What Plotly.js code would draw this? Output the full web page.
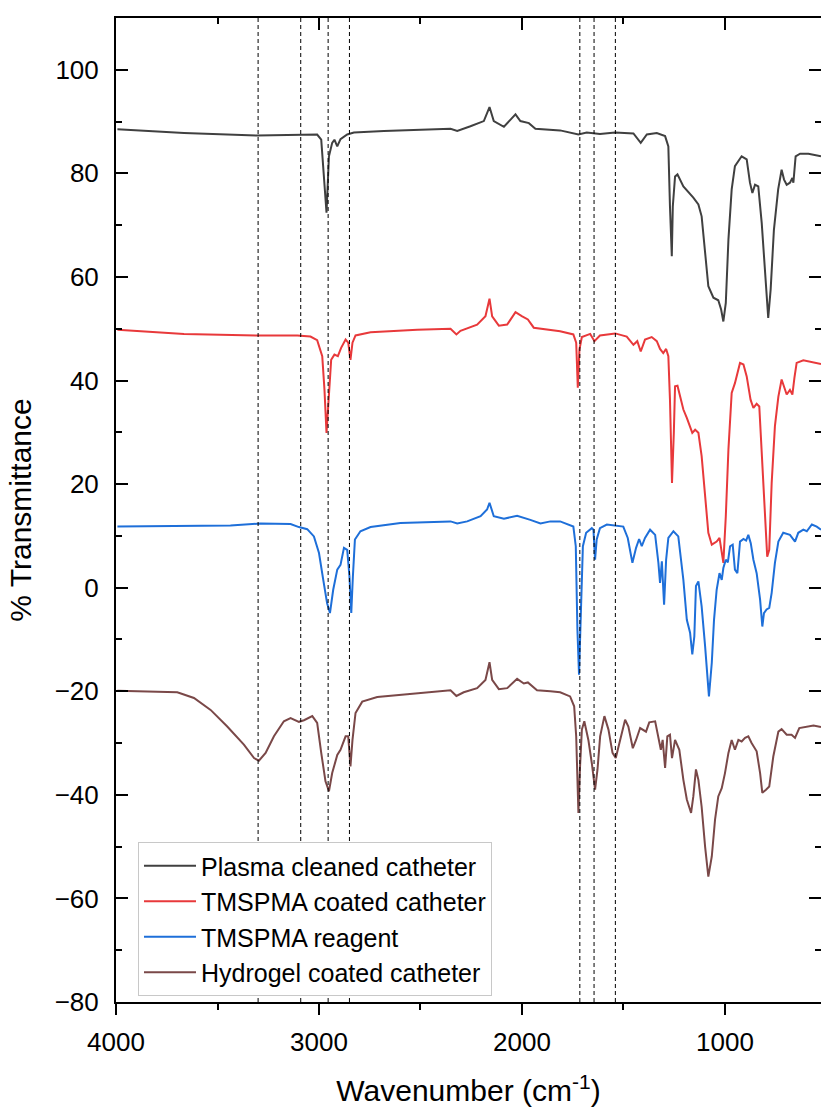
<!DOCTYPE html>
<html>
<head>
<meta charset="utf-8">
<script src="https://cdn.plot.ly/plotly-3.0.1.min.js"></script>
<style>html,body{margin:0;padding:0;background:#fff;}#chart{width:821px;height:1109px;}</style>
</head>
<body>
<div id="chart"></div>
<script>
// ---- Data (wavenumber in cm-1, % transmittance) ----
const seriesNames = ["Plasma cleaned catheter", "TMSPMA coated catheter", "TMSPMA reagent", "Hydrogel coated catheter"];
const seriesColors = ["#404040", "#e8393b", "#1e6fd9", "#7a4848"];

const plasmaWn = [3993,3665,3304,3009,2989,2976,2963,2951,2935,2924,2910,2894,2861,2828,2680,2352,2319,2254,2188,2160,2139,2089,2032,2008,1966,1934,1812,1722,1681,1616,1541,1451,1415,1385,1336,1295,1279,1271,1262,1257,1246,1234,1205,1156,1131,1115,1098,1082,1057,1033,1019,1008,996,983,967,951,918,893,877,865,852,836,819,803,787,775,759,738,721,709,696,680,668,663,652,630,589,527];
const plasmaT  = [88.5,87.8,87.3,87.5,86.5,80.1,72.4,83.3,85.9,86.5,85.2,86.6,87.5,87.9,88.2,88.6,88.2,89.1,90.1,92.8,90.1,89.0,91.4,90.1,89.7,88.6,88.3,87.5,87.9,87.6,87.9,87.7,85.9,87.5,87.8,87.2,85.2,73.6,64.0,73.6,79.4,79.8,77.5,75.3,74.0,71.7,65.3,58.2,56.0,55.5,53.7,51.4,55.0,67.2,76.9,81.4,83.3,82.7,78.2,76.2,77.8,77.5,70.4,60.2,52.1,57.6,69.1,76.9,80.7,78.8,77.8,78.2,79.1,78.2,83.3,83.8,83.8,83.3];

const coatedWn = [3993,3665,3304,3107,3042,3009,2984,2973,2963,2951,2940,2924,2907,2891,2869,2856,2845,2835,2820,2746,2516,2352,2323,2303,2221,2180,2160,2147,2114,2073,2032,1999,1971,1942,1812,1747,1733,1725,1717,1705,1664,1643,1616,1541,1484,1451,1432,1415,1394,1361,1336,1320,1304,1290,1279,1271,1261,1252,1246,1234,1205,1188,1161,1147,1131,1115,1098,1082,1065,1041,1027,1016,1008,996,983,967,951,926,909,893,874,860,844,831,819,803,792,782,770,754,737,721,709,696,680,668,658,647,614,527];
const coatedT  = [49.8,49.0,48.7,48.7,48.5,47.8,44.7,38.2,29.9,38.2,44.0,45.0,44.7,46.3,47.9,47.3,44.0,47.3,48.7,49.3,49.8,50.0,48.9,49.6,50.8,52.4,55.8,52.4,50.6,50.8,53.2,52.4,51.8,50.2,49.5,48.9,47.3,38.6,46.0,48.4,49.0,47.6,48.7,49.1,48.5,46.9,47.6,45.6,47.9,48.4,47.6,46.1,45.3,46.1,44.7,36.3,20.2,29.9,38.9,39.0,34.4,32.8,29.9,30.5,29.9,25.4,17.0,10.6,8.3,8.9,9.6,6.7,4.8,13.8,26.7,37.6,39.5,43.4,43.1,40.8,36.3,34.7,35.5,35.0,26.7,13.8,6.0,7.3,20.2,31.2,36.9,40.2,38.9,37.3,38.2,37.3,40.5,43.4,43.9,43.2];

const reagentWn = [3993,3436,3288,3140,3099,3058,3025,3000,2979,2960,2946,2930,2910,2894,2877,2861,2850,2841,2833,2823,2796,2746,2599,2352,2319,2270,2204,2172,2160,2139,2089,2024,1959,1909,1860,1812,1747,1735,1727,1719,1710,1700,1684,1656,1648,1640,1632,1616,1582,1501,1479,1456,1438,1423,1410,1394,1369,1344,1328,1320,1311,1300,1290,1279,1254,1230,1205,1188,1172,1161,1151,1143,1131,1115,1098,1087,1079,1065,1054,1041,1027,1016,1008,996,986,975,962,951,939,926,909,896,885,873,860,844,827,816,808,795,782,770,754,737,713,680,655,639,614,597,572,548,527];
const reagentT  = [11.8,12.0,12.4,12.3,11.7,11.3,9.9,6.7,1.5,-3.0,-4.9,-0.4,3.5,4.4,7.7,7.3,2.2,-4.9,2.2,9.3,10.9,11.7,12.5,12.8,12.4,12.8,13.8,15.1,16.4,13.8,13.3,13.9,13.1,12.4,12.8,12.8,11.8,8.0,-8.1,-16.8,-4.9,8.0,10.6,11.5,11.2,5.4,9.3,11.5,12.2,11.8,9.6,4.8,7.7,9.4,8.0,9.6,11.2,10.2,4.8,0.9,5.1,-3.3,5.4,9.6,10.9,9.9,1.5,-6.2,-8.7,-12.9,-9.4,0.3,1.2,-3.6,-11.3,-17.8,-21.0,-14.5,-6.2,-0.4,2.8,1.5,3.8,5.4,4.9,8.0,8.3,3.5,2.8,8.9,9.4,9.1,10.2,8.6,5.4,2.8,-2.3,-7.5,-4.9,-4.2,-3.9,-1.0,4.8,8.9,10.6,10.2,8.9,10.6,11.2,10.9,12.2,11.8,11.2];

const hydrogelWn = [3993,3698,3616,3534,3452,3370,3320,3296,3263,3222,3173,3140,3099,3074,3033,3009,2989,2968,2951,2935,2910,2894,2869,2856,2845,2835,2820,2787,2713,2599,2434,2352,2323,2287,2221,2180,2160,2147,2114,2073,2024,1991,1971,1926,1860,1812,1763,1743,1733,1722,1714,1705,1693,1673,1656,1640,1628,1615,1594,1574,1554,1538,1520,1492,1476,1454,1438,1418,1389,1373,1344,1328,1316,1307,1295,1284,1271,1261,1246,1225,1205,1188,1167,1156,1143,1131,1115,1098,1082,1065,1049,1033,1016,1000,983,967,951,934,918,901,885,869,844,827,816,798,782,762,737,721,696,672,655,634,597,564,527];
const hydrogelT  = [-19.9,-20.2,-21.3,-23.6,-26.8,-30.3,-32.9,-33.4,-31.9,-28.7,-25.8,-25.2,-25.9,-25.6,-24.8,-26.1,-31.9,-37.4,-39.3,-35.8,-32.3,-31.3,-28.7,-28.7,-34.5,-29.4,-24.2,-22.0,-21.1,-20.7,-20.0,-19.8,-20.9,-20.2,-19.4,-17.8,-14.4,-17.8,-19.6,-19.4,-17.6,-18.5,-18.3,-19.8,-20.0,-20.2,-21.0,-22.9,-28.7,-43.5,-34.5,-27.4,-25.8,-29.4,-33.9,-39.0,-35.1,-28.7,-24.8,-27.4,-31.9,-32.9,-30.0,-25.5,-26.8,-31.0,-29.4,-27.1,-27.8,-26.0,-25.8,-29.4,-31.3,-29.4,-34.8,-28.7,-28.4,-32.9,-29.4,-31.3,-37.1,-40.9,-43.5,-40.3,-35.1,-37.1,-42.3,-50.0,-55.8,-51.9,-44.8,-40.3,-38.7,-35.8,-31.9,-29.4,-31.3,-29.4,-29.7,-29.0,-28.7,-30.0,-31.6,-35.8,-39.6,-39.0,-38.4,-32.6,-27.8,-27.3,-28.4,-28.4,-29.0,-27.1,-26.9,-26.6,-26.9];

// band positions marked with dashed guide lines
const bandLines = [3300, 3090, 2955, 2850, 1715, 1645, 1540];

const xTickVals = [4000, 3000, 2000, 1000];
const xRange = [4000, 527];
const yRange = [-80, 110];

// ---- Build figure ----
const FONT = "Liberation Sans, Arial, Helvetica, sans-serif";
const xs = [plasmaWn, coatedWn, reagentWn, hydrogelWn];
const ys = [plasmaT, coatedT, reagentT, hydrogelT];

const traces = seriesNames.map((name, i) => ({
  type: "scatter", mode: "lines", name: name,
  x: xs[i], y: ys[i],
  line: {color: seriesColors[i], width: 2}
}));
// helper traces so the mirrored (top/right) axes are drawn
traces.push({type:"scatter", mode:"lines", x:[null], y:[null], xaxis:"x2", yaxis:"y", showlegend:false, hoverinfo:"skip"});
traces.push({type:"scatter", mode:"lines", x:[null], y:[null], xaxis:"x", yaxis:"y2", showlegend:false, hoverinfo:"skip"});

const shapes = bandLines.map(w => ({
  type: "line", xref: "x", yref: "paper", x0: w, x1: w, y0: 0, y1: 1,
  line: {color: "#000", width: 1, dash: "4px,3px"}
}));

const axisCommon = {showgrid: false, zeroline: false, linecolor: "#000", linewidth: 2, tickcolor: "#000", tickwidth: 2};

const layout = {
  width: 821, height: 1109,
  margin: {l: 116, r: 0, t: 18, b: 107},
  paper_bgcolor: "#fff", plot_bgcolor: "#fff",
  font: {family: FONT, color: "#000"},
  showlegend: true,
  xaxis: Object.assign({}, axisCommon, {
    range: xRange, autorange: false,
    tickmode: "array", tickvals: xTickVals,
    ticks: "outside", ticklen: 11, showline: true,
    minor: {dtick: 500, tick0: 0, ticks: "outside", ticklen: 6, tickwidth: 2, tickcolor: "#000"},
    tickfont: {family: FONT, size: 26, color: "#000"},
    ticklabelstandoff: 5,
    title: {text: "Wavenumber (cm<sup>-1</sup>)", font: {family: FONT, size: 30, color: "#000"}, standoff: 24}
  }),
  xaxis2: Object.assign({}, axisCommon, {
    overlaying: "x", side: "top", anchor: "y",
    range: xRange, autorange: false,
    tickmode: "array", tickvals: xTickVals,
    ticks: "inside", ticklen: 12, showline: true, showticklabels: false,
    minor: {dtick: 500, tick0: 0, ticks: "inside", ticklen: 6, tickwidth: 2, tickcolor: "#000"}
  }),
  yaxis: Object.assign({}, axisCommon, {
    range: yRange, autorange: false,
    tickmode: "linear", tick0: 0, dtick: 20,
    ticks: "inside", ticklen: 12, showline: true,
    minor: {dtick: 10, tick0: 0, ticks: "inside", ticklen: 6, tickwidth: 2, tickcolor: "#000"},
    tickfont: {family: FONT, size: 26, color: "#000"},
    ticklabelstandoff: 10,
    title: {text: "% Transmittance", font: {family: FONT, size: 30, color: "#000"}, standoff: 14}
  }),
  yaxis2: Object.assign({}, axisCommon, {
    overlaying: "y", side: "right", anchor: "x",
    range: yRange, autorange: false,
    tickmode: "linear", tick0: 0, dtick: 20,
    ticks: "inside", ticklen: 12, showline: false, showticklabels: false,
    minor: {dtick: 10, tick0: 0, ticks: "inside", ticklen: 6, tickwidth: 2, tickcolor: "#000"}
  }),
  legend: {
    x: 0.0312, y: 0.0843, xanchor: "left", yanchor: "middle",
    bgcolor: "#fff", bordercolor: "#c8c8c8", borderwidth: 1,
    font: {family: FONT, size: 25, color: "#000"},
    itemwidth: 52,
    tracegroupgap: 0
  },
  shapes: shapes
};

Plotly.newPlot("chart", traces, layout, {displayModeBar: false, staticPlot: true});
</script>
</body>
</html>
